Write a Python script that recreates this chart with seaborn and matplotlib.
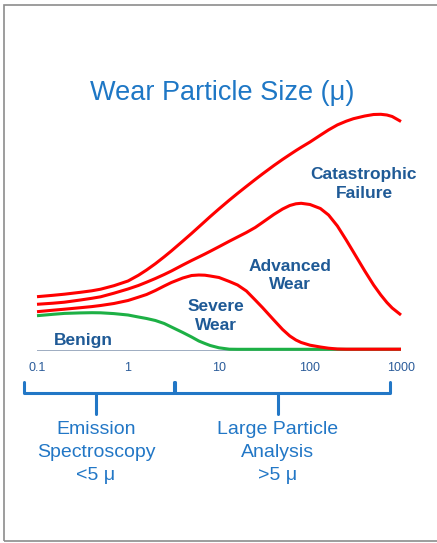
import numpy as np
import pandas as pd
import matplotlib
matplotlib.use("Agg")
import matplotlib.pyplot as plt
import seaborn as sns
from matplotlib.patches import Rectangle

# ---------------------------------------------------------------------------
# Data (relative wear level vs particle size, microns)
# ---------------------------------------------------------------------------
size_um = [0.1, 0.15, 0.2, 0.3, 0.4, 0.5, 0.7, 1, 1.3, 1.6, 2, 2.5, 3, 4, 5,
           6, 7, 8, 10, 13, 16, 20, 25, 30, 40, 50, 60, 70, 80, 100, 130, 160,
           200, 250, 300, 400, 500, 600, 700, 800, 1000]

benign = [34.8, 36.2, 37.1, 37.6, 37.8, 37.7, 36.9, 35.5, 33.5, 32.0, 30.0,
          27.0, 23.5, 18.0, 13.5, 9.5, 7.0, 5.0, 2.7, 1.3, 1.2, 1.2, 1.2, 1.2,
          1.2, 1.2, 1.2, 1.2, 1.2, 1.2, 1.2, 1.2, 1.2, 1.2, 1.2, 1.2, 1.2, 1.2,
          1.2, 1.2, 1.2]
severe = [38.8, 40.3, 41.3, 42.8, 43.9, 45.0, 47.0, 50.0, 53.3, 56.0, 60.0,
          64.5, 68.0, 72.5, 75.0, 75.5, 75.3, 74.5, 73.0, 69.0, 65.5, 59.5,
          50.5, 43.0, 30.5, 21.0, 14.5, 10.5, 8.0, 5.3, 3.5, 2.3, 1.5, 1.3,
          1.3, 1.3, 1.3, 1.3, 1.3, 1.3, 1.3]
advanced = [46.2, 47.3, 48.3, 50.5, 52.2, 53.7, 57.3, 61.5, 65.0, 68.3, 72.0,
            76.0, 79.5, 85.5, 90.0, 93.5, 96.5, 99.2, 103.8, 109.3, 113.5,
            118.0, 123.0, 128.0, 136.0, 141.5, 145.0, 146.7, 147.2, 146.0,
            142.0, 135.5, 124.5, 110.5, 98.5, 79.5, 65.5, 55.5, 48.0, 42.5,
            35.5]
catastrophic = [53.8, 55.2, 56.3, 58.2, 59.7, 61.3, 64.8, 69.5, 75.2, 80.5,
                86.8, 93.7, 99.6, 109.4, 117.1, 123.6, 129.1, 133.9, 141.6,
                150.4, 157.1, 164.1, 171.0, 176.5, 184.9, 191.1, 195.9, 199.9,
                203.2, 208.5, 215.3, 220.6, 225.6, 229.3, 231.8, 234.5, 236.0,
                236.2, 235.5, 234.0, 229.0]

tick_values = [0.1, 1, 10, 100, 1000]
tick_labels = ["0.1", "1", "10", "100", "1000"]

df = pd.DataFrame({
    "size": size_um * 4,
    "level": benign + severe + advanced + catastrophic,
    "stage": (["Benign"] * len(size_um) + ["Severe"] * len(size_um)
              + ["Advanced"] * len(size_um) + ["Catastrophic"] * len(size_um)),
})

# ---------------------------------------------------------------------------
# Figure set-up
# ---------------------------------------------------------------------------
sns.set_theme(style="white")
plt.rcParams["font.family"] = ["Liberation Sans", "DejaVu Sans"]

W, H = 437, 543
fig = plt.figure(figsize=(W / 100, H / 100), dpi=100)
# axes: x 0.1..1000 spans px 37..401, y 0..250 spans px 350.5..100.5
ax = fig.add_axes([37 / W, (H - 350.5) / H, 364 / W, 250 / H])

palette = {"Benign": "#1DB045", "Severe": "#FF0000",
           "Advanced": "#FF0000", "Catastrophic": "#FF0000"}
sns.lineplot(data=df, x="size", y="level", hue="stage",
             hue_order=["Benign", "Severe", "Advanced", "Catastrophic"],
             palette=palette, linewidth=2.2, legend=False, ax=ax,
             solid_capstyle="butt")
for ln in ax.lines:
    ln.set_clip_on(False)

ax.set_xscale("log")
ax.set_xlim(0.1, 1000)
ax.set_ylim(0, 250)
ax.axhline(0, color="#8496B0", lw=1.1, zorder=0)
for s in ax.spines.values():
    s.set_visible(False)
ax.set_xticks(tick_values)
ax.set_xticklabels(tick_labels)
ax.minorticks_off()
ax.tick_params(axis="x", length=0, pad=8.5, labelsize=9, labelcolor="#2B5C9A")
ax.set_yticks([])
ax.set_xlabel("")
ax.set_ylabel("")
ax.grid(False)

# stage labels
lab = dict(ha="center", va="center", fontsize=12.5, fontweight="bold",
           color="#1F5A96", linespacing=1.3)
ax.text(392, 166.5, "Catastrophic\nFailure", **lab)
ax.text(60, 75, "Advanced\nWear", **lab)
ax.text(9.3, 34.5, "Severe\nWear", **lab)
ax.text(0.32, 10, "Benign", **lab)

# title
fig.text(222 / W, 1 - 93 / H, "Wear Particle Size (\u03bc)", ha="center",
         va="center", fontsize=19.5, color="#1E77C5")

# brackets below the axis
bc = "#2277C6"
y_top, y_mid, y_bot = -31.5, -42.5, -63.5
ax.plot([0.072, 0.072, 3.2, 3.2], [y_top, y_mid, y_mid, y_top], color=bc,
        lw=2.2, clip_on=False, solid_joinstyle="round")
ax.plot([3.3, 3.3, 757, 757], [y_top, y_mid, y_mid, y_top], color=bc,
        lw=2.2, clip_on=False, solid_joinstyle="round")
ax.plot([0.444, 0.444], [y_mid, y_bot], color=bc, lw=2.2, clip_on=False)
ax.plot([44, 44], [y_mid, y_bot], color=bc, lw=2.2, clip_on=False)

txt = dict(ha="center", va="top", fontsize=14, color=bc, linespacing=1.47)
ax.text(0.444, -70, "Emission\nSpectroscopy\n<5 \u03bc", **txt)
ax.text(44, -70, "Large Particle\nAnalysis\n>5 \u03bc", **txt)

# slide border
fig.patches.append(Rectangle((4 / W, 1 - 541 / H), 440 / W, 536 / H,
                             transform=fig.transFigure, fill=False,
                             edgecolor="#8C8C8C", lw=1.2))

fig.savefig("out.png", dpi=100)
